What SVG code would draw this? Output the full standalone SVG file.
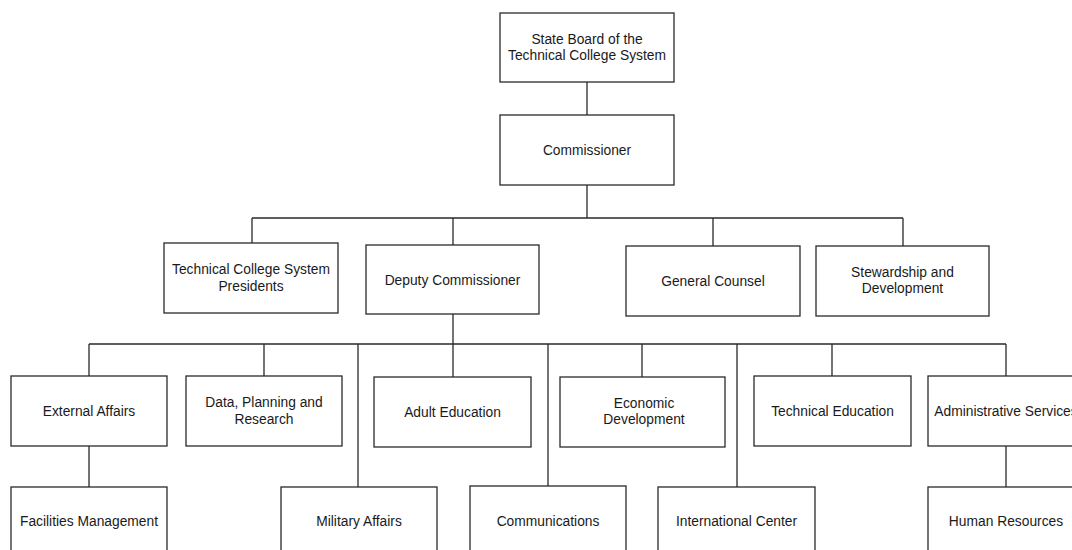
<svg xmlns="http://www.w3.org/2000/svg" width="1072" height="550" viewBox="0 0 1072 550">
<style>
.box{fill:#fff;stroke:#2a2a2a;stroke-width:1.3}
.ln{fill:none;stroke:#2a2a2a;stroke-width:1.3}
text{font-family:"Liberation Sans",Arial,sans-serif;font-size:13.8px;fill:#1a1a1a;text-anchor:middle}
</style>
<rect width="1072" height="550" fill="#fff"/>
<g id="connectors">
<path class="ln" d="M587,82V115M587,185V218M252,218H903M252,218V243M453,218V245M713,218V246M903,218V246"/>
<path class="ln" d="M453,314V344M89,344H1006M89,344V376M264,344V376M358,344V487M453,344V377M548,344V486M642,344V377M737,344V487M832,344V376M1006,344V376"/>
<path class="ln" d="M89,446V487M1006,446V487"/>
</g>
<g id="state-board"><rect class="box" x="500" y="13" width="174" height="69"/><text x="587" y="43.5">State Board of the</text><text x="587" y="60">Technical College System</text></g>
<g id="commissioner"><rect class="box" x="500" y="115" width="174" height="70"/><text x="587" y="155">Commissioner</text></g>
<g id="tcs-presidents"><rect class="box" x="164" y="243" width="174" height="70"/><text x="251" y="274">Technical College System</text><text x="251" y="290.5">Presidents</text></g>
<g id="deputy-commissioner"><rect class="box" x="366" y="245" width="173" height="69"/><text x="452.5" y="284.5">Deputy Commissioner</text></g>
<g id="general-counsel"><rect class="box" x="626" y="246" width="174" height="70"/><text x="713" y="285.5">General Counsel</text></g>
<g id="stewardship"><rect class="box" x="816" y="246" width="173" height="70"/><text x="902.5" y="276.5">Stewardship and</text><text x="902.5" y="293">Development</text></g>
<g id="external-affairs"><rect class="box" x="11" y="376" width="156" height="70"/><text x="89" y="415.5">External Affairs</text></g>
<g id="data-planning"><rect class="box" x="186" y="376" width="156" height="70"/><text x="264" y="407">Data, Planning and</text><text x="264" y="423.5">Research</text></g>
<g id="adult-education"><rect class="box" x="374" y="377" width="157" height="70"/><text x="452.5" y="416.5">Adult Education</text></g>
<g id="economic-development"><rect class="box" x="560" y="377" width="165" height="70"/><text x="644" y="408">Economic</text><text x="644" y="424">Development</text></g>
<g id="technical-education"><rect class="box" x="754" y="376" width="157" height="70"/><text x="832.5" y="415.5">Technical Education</text></g>
<g id="administrative-services"><rect class="box" x="928" y="376" width="157" height="70"/><text x="1006" y="415.5">Administrative Services</text></g>
<g id="facilities-management"><rect class="box" x="11" y="487" width="156" height="70"/><text x="89" y="526">Facilities Management</text></g>
<g id="military-affairs"><rect class="box" x="281" y="487" width="156" height="70"/><text x="359" y="526">Military Affairs</text></g>
<g id="communications"><rect class="box" x="470" y="486" width="156" height="70"/><text x="548" y="526">Communications</text></g>
<g id="international-center"><rect class="box" x="658" y="487" width="157" height="70"/><text x="736.5" y="526">International Center</text></g>
<g id="human-resources"><rect class="box" x="928" y="487" width="157" height="70"/><text x="1006" y="526">Human Resources</text></g>
</svg>
